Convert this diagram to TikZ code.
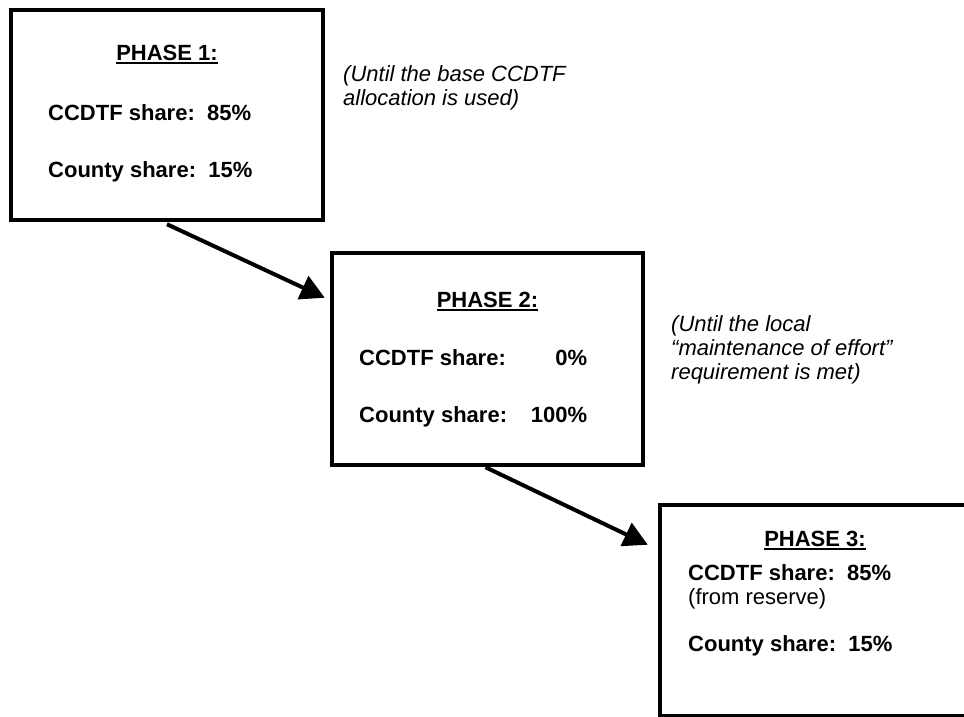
\documentclass[tikz,border=0pt]{standalone}
\usepackage{fontspec}
\setmainfont{Liberation Sans}
\usetikzlibrary{arrows.meta}
\begin{document}
\begin{tikzpicture}[x=1pt,y=-1pt,
  phasebox/.style={draw=black, line width=4.5pt, inner sep=0pt, rectangle},
  lbl/.style={inner sep=0pt, anchor=base west, font=\fontsize{22}{25}\selectfont\bfseries},
  plain/.style={inner sep=0pt, anchor=base west, font=\fontsize{22}{25}\selectfont},
  ttl/.style={inner sep=0pt, anchor=base, font=\fontsize{22}{25}\selectfont\bfseries},
  note/.style={inner sep=0pt, anchor=base west, align=left, font=\fontsize{22}{24}\selectfont\itshape},
  uline/.style={line width=2pt},
  flow/.style={line width=4pt, -{Triangle[length=24pt,width=25pt]}},
]
\useasboundingbox (0,0) rectangle (964,717);

% boxes
\node[phasebox, minimum width=312pt, minimum height=210pt] (b1) at (167,115) {};
\node[phasebox, minimum width=311pt, minimum height=212pt] (b2) at (487.5,359) {};
\node[phasebox, minimum width=310pt, minimum height=211pt] (b3) at (815,610.5) {};

% box 1 text
\node[ttl] (ph1) at (167,60) {PHASE 1:};
\draw[uline] ([yshift=-3.3pt]ph1.base west) -- ([yshift=-3.3pt]ph1.base east);
\node[lbl] (c1a) at (48,120) {CCDTF share:\ \ 85\%};
\node[lbl] (c1b) at (48,177) {County share:\ \ 15\%};

% note 1 (anchor = baseline of last line)
\node[note] (n1) at (343,105) {(Until the base CCDTF\\allocation is used)};

% box 2 text
\node[ttl] (ph2) at (487.5,307) {PHASE 2:};
\draw[uline] ([yshift=-3.3pt]ph2.base west) -- ([yshift=-3.3pt]ph2.base east);
\node[lbl] (c2a) at (359,365) {\makebox[228pt]{CCDTF share:\hfill 0\%}};
\node[lbl] (c2b) at (359,422) {\makebox[228pt]{County share:\hfill 100\%}};

% note 2 (anchor = baseline of last line)
\node[note] (n2) at (671,379) {(Until the local\\“maintenance of effort”\\requirement is met)};

% box 3 text
\node[ttl] (ph3) at (815,546) {PHASE 3:};
\draw[uline] ([yshift=-3.3pt]ph3.base west) -- ([yshift=-3.3pt]ph3.base east);
\node[lbl] (c3a) at (688,580) {CCDTF share:\ \ 85\%};
\node[plain] (c3b) at (688,604) {(from reserve)};
\node[lbl] (c3c) at (688,651) {County share:\ \ 15\%};

% connectors
\coordinate (t1) at ([xshift=-5pt,yshift=-47pt]b2.north west);
\coordinate (t2) at ([xshift=-10pt,yshift=-42pt]b3.north west);
\draw[flow] ([yshift=-2pt]b1.south) -- (t1);
\draw[flow] ([xshift=-2pt]b2.south) -- (t2);
\end{tikzpicture}
\end{document}
